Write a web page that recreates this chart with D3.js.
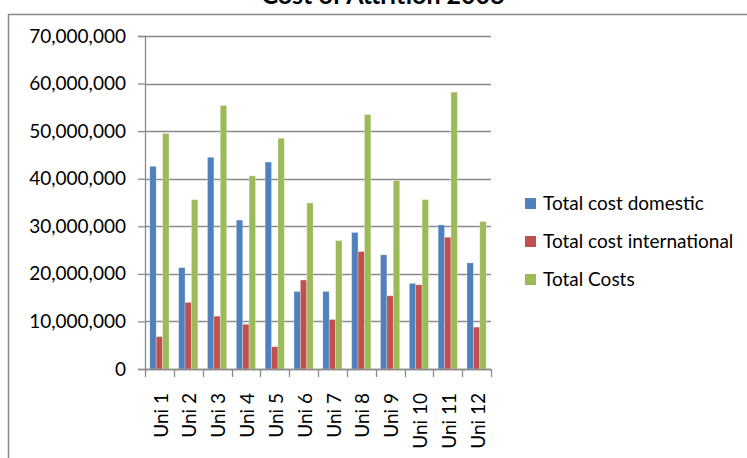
<!DOCTYPE html>
<html>
<head>
<meta charset="utf-8">
<script src="https://cdn.jsdelivr.net/npm/d3@7"></script>
<style>
  body { margin: 0; background: #fff; }
  svg { display: block; font-family: Lato, "Open Sans", sans-serif; }
</style>
</head>
<body>
<div id="chart-area"></div>
<script>
const categories = ["Uni 1", "Uni 2", "Uni 3", "Uni 4", "Uni 5", "Uni 6",
    "Uni 7", "Uni 8", "Uni 9", "Uni 10", "Uni 11", "Uni 12"];
const seriesNames = ["Total cost domestic", "Total cost international", "Total Costs"];
const domestic = [42.6e6, 21.3e6, 44.5e6, 31.3e6, 43.5e6, 16.3e6,
    16.3e6, 28.7e6, 24.0e6, 18.0e6, 30.3e6, 22.3e6];
const international = [6.8e6, 14.0e6, 11.1e6, 9.4e6, 4.7e6, 18.7e6,
    10.4e6, 24.7e6, 15.4e6, 17.7e6, 27.7e6, 8.8e6];
const totals = [49.5e6, 35.6e6, 55.4e6, 40.6e6, 48.5e6, 34.9e6,
    27.0e6, 53.5e6, 39.6e6, 35.6e6, 58.2e6, 31.0e6];
const yTicks = [0, 10e6, 20e6, 30e6, 40e6, 50e6, 60e6, 70e6];
const colors = ["#4f81bd", "#c0504d", "#9bbb59"];

const W = 747, H = 458;
const margin = { left: 145, top: 36, right: 256, bottom: 89 };
const width = W - margin.left - margin.right,
    height = H - margin.top - margin.bottom;

const svg = d3.select("#chart-area").append("svg")
    .attr("width", W)
    .attr("height", H);

// outer chart frame (runs off the right/bottom edges)
svg.append("rect")
    .attr("x", 8.5).attr("y", 14.5)
    .attr("width", 760).attr("height", 460)
    .attr("fill", "none")
    .attr("stroke", "#888")
    .attr("stroke-width", 1.5);

// title sits mostly above the page, as in the original
svg.append("text")
    .attr("x", 383)
    .attr("y", 4)
    .attr("text-anchor", "middle")
    .attr("font-size", "25px")
    .attr("font-weight", "bold")
    .attr("fill", "#000")
    .text("Cost of Attrition 2008");

const g = svg.append("g")
    .attr("transform", `translate(${margin.left}, ${margin.top})`);

const x = d3.scaleBand()
    .domain(categories)
    .range([0, width])
    .paddingInner(1 / 3)
    .paddingOuter(1 / 6);

const x1 = d3.scaleBand()
    .domain(d3.range(seriesNames.length))
    .range([0, x.bandwidth()]);

const y = d3.scaleLinear().domain([0, 70e6]).range([height, 0]);

// gridlines
g.append("g")
    .selectAll("line")
    .data(yTicks)
    .join("line")
    .attr("x1", 0)
    .attr("x2", width)
    .attr("y1", d => Math.round(y(d)) + 0.5)
    .attr("y2", d => Math.round(y(d)) + 0.5)
    .attr("stroke", "#8a8a8a")
    .attr("stroke-width", 1.3);

// bars
const series = [domestic, international, totals];
const groups = g.append("g")
    .selectAll("g")
    .data(categories)
    .join("g")
    .attr("transform", d => `translate(${x(d)},0)`);

groups.selectAll("rect")
    .data((d, i) => series.map((s, k) => ({ k: k, value: s[i] })))
    .join("rect")
    .attr("x", d => x1(d.k))
    .attr("width", x1.bandwidth())
    .attr("y", d => y(d.value))
    .attr("height", d => height - y(d.value))
    .attr("fill", d => colors[d.k])
    .attr("stroke", "#ffffff")
    .attr("stroke-opacity", 0.35)
    .attr("stroke-width", 0.8);

// y axis
const yAxis = g.append("g")
    .call(d3.axisLeft(y)
        .tickValues(yTicks)
        .tickSize(7)
        .tickPadding(12)
        .tickFormat(d3.format(",")));
yAxis.select(".domain").attr("stroke", "#8a8a8a").attr("stroke-width", 1.3);
yAxis.selectAll(".tick line").attr("stroke", "#8a8a8a").attr("stroke-width", 1.3);
yAxis.selectAll("text")
    .attr("font-size", "19px")
    .attr("fill", "#000")
    .attr("font-family", "Lato, sans-serif");

// x axis: ticks at band boundaries
const xAxisG = g.append("g")
    .attr("transform", `translate(0,${height})`);
xAxisG.append("line")
    .attr("x1", 0).attr("x2", width)
    .attr("y1", 0.5).attr("y2", 0.5)
    .attr("stroke", "#8a8a8a")
    .attr("stroke-width", 1.3);
const boundaries = categories.map((c, i) => i * x.step()).concat([width]);
xAxisG.selectAll(".xtick")
    .data(boundaries)
    .join("line")
    .attr("class", "xtick")
    .attr("x1", d => Math.round(d) + 0.5)
    .attr("x2", d => Math.round(d) + 0.5)
    .attr("y1", 0)
    .attr("y2", 8)
    .attr("stroke", "#8a8a8a")
    .attr("stroke-width", 1.3);
xAxisG.selectAll(".xlabel")
    .data(categories)
    .join("text")
    .attr("class", "xlabel")
    .attr("transform", d => `translate(${x(d) + x.bandwidth() / 2 + 1.5},24) rotate(-90)`)
    .attr("text-anchor", "end")
    .attr("dy", "0.35em")
    .attr("font-size", "19px")
    .attr("fill", "#000")
    .text(d => d);

// legend
const legend = svg.append("g")
    .attr("transform", "translate(525,203)");
const items = legend.selectAll("g")
    .data(seriesNames)
    .join("g")
    .attr("transform", (d, i) => `translate(0,${i * 38})`);
items.append("rect")
    .attr("x", 0).attr("y", -5)
    .attr("width", 11).attr("height", 11)
    .attr("fill", (d, i) => colors[i]);
items.append("text")
    .attr("x", 18)
    .attr("y", 0)
    .attr("dy", "0.35em")
    .attr("font-size", "19px")
    .attr("fill", "#000")
    .text(d => d);
</script>
</body>
</html>
